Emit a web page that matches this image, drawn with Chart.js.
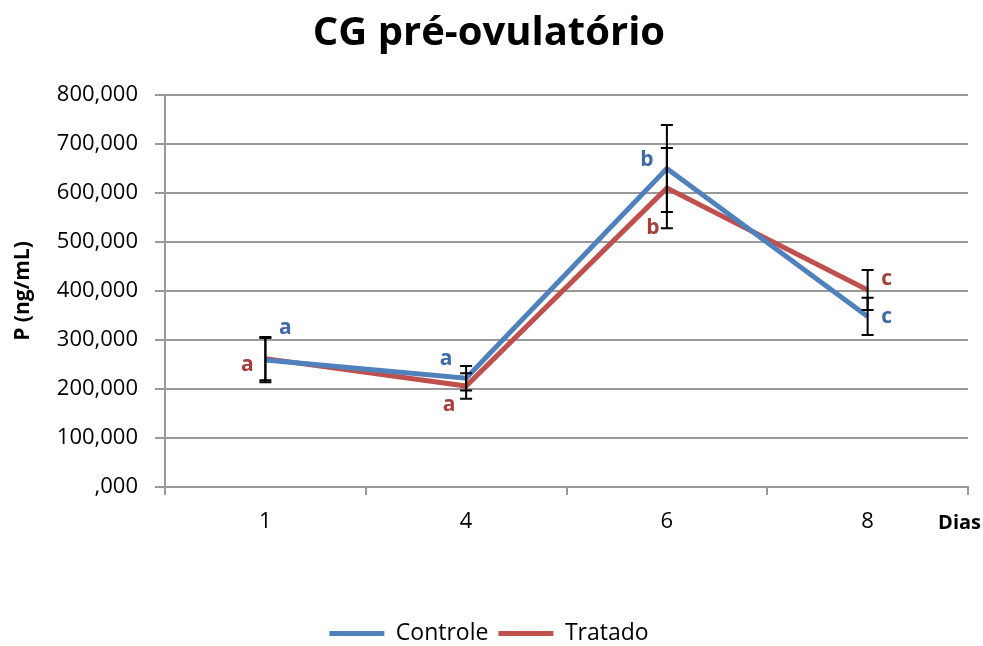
<!DOCTYPE html>
<html>
<head>
<meta charset="utf-8">
<script src="https://cdn.jsdelivr.net/npm/chart.js@4"></script>
<style>
  html, body { margin: 0; padding: 0; background: #fff; }
  #wrap { width: 983px; height: 646px; }
</style>
</head>
<body>
<div id="wrap"><canvas id="myChart" width="983" height="646"></canvas></div>
<script>
// dados --------------------------------------
const days = ['1', '4', '6', '8'];
const controle = [259, 222, 650, 348];
const tratado = [262, 206, 610, 402];
const controleErr = [45, 25, 89, 38];
const tratadoErr = [44, 26, 82, 41];
const controleLetters = ['a', 'a', 'b', 'c'];
const tratadoLetters = ['a', 'a', 'b', 'c'];

const blue = '#4F81BD';
const red = '#C0504D';
const font = "'Open Sans', 'Noto Sans', sans-serif";

// where each significance letter sits next to its point (px)
const controleOffsets = [[20, -32], [-20, -19], [-20, -8], [19, 1]];
const tratadoOffsets = [[-18, 6], [-17, 19], [-14, 40], [19, -11]];

// error bars + letters + "Dias"
const extras = {
  id: 'extras',
  afterDatasetsDraw(chart) {
    const ctx = chart.ctx;
    const x = chart.scales.x;
    const y = chart.scales.y;
    const series = [
      { vals: controle, err: controleErr },
      { vals: tratado, err: tratadoErr }
    ];
    ctx.save();
    ctx.strokeStyle = '#000';
    ctx.lineWidth = 2;
    series.forEach((s) => {
      s.vals.forEach((v, i) => {
        const px = x.getPixelForValue(i);
        const top = y.getPixelForValue(v + s.err[i]);
        const bot = y.getPixelForValue(v - s.err[i]);
        ctx.beginPath();
        ctx.moveTo(px, top); ctx.lineTo(px, bot);
        ctx.moveTo(px - 6, top); ctx.lineTo(px + 6, top);
        ctx.moveTo(px - 6, bot); ctx.lineTo(px + 6, bot);
        ctx.stroke();
      });
    });

    ctx.font = 'bold 21px ' + font;
    ctx.textAlign = 'center';
    ctx.textBaseline = 'middle';
    const lettering = [
      { vals: controle, letters: controleLetters, off: controleOffsets, color: '#3F6BA3' },
      { vals: tratado, letters: tratadoLetters, off: tratadoOffsets, color: '#A33E3B' }
    ];
    lettering.forEach((s) => {
      ctx.fillStyle = s.color;
      s.vals.forEach((v, i) => {
        ctx.fillText(s.letters[i],
          x.getPixelForValue(i) + s.off[i][0],
          y.getPixelForValue(v) + s.off[i][1]);
      });
    });

    ctx.fillStyle = '#000';
    ctx.font = 'bold 20px ' + font;
    ctx.textAlign = 'right';
    ctx.fillText('Dias', chart.chartArea.right + 13, chart.chartArea.bottom + 36);
    ctx.restore();
  }
};

var ctx = document.getElementById('myChart').getContext('2d');
var chart = new Chart(ctx, {
  type: 'line',
  data: {
    labels: days,
    datasets: [
      {
        label: 'Controle',
        data: controle,
        borderColor: blue,
        backgroundColor: blue,
        borderWidth: 5,
        pointRadius: 0,
        tension: 0
      },
      {
        label: 'Tratado',
        data: tratado,
        borderColor: red,
        backgroundColor: red,
        borderWidth: 5,
        pointRadius: 0,
        tension: 0
      }
    ]
  },
  options: {
    responsive: false,
    animation: false,
    layout: { padding: { left: 10, right: 15, top: 0, bottom: -9 } },
    plugins: {
      title: {
        display: true,
        text: 'CG pré-ovulatório',
        color: '#000',
        font: { family: font, size: 40, weight: 'bold' },
        padding: { top: 10, bottom: 37 }
      },
      legend: {
        position: 'bottom',
        labels: {
          color: '#000',
          font: { family: font, size: 23 },
          boxWidth: 55,
          boxHeight: 5,
          padding: 10,
          generateLabels(chart) {
            return Chart.defaults.plugins.legend.labels.generateLabels(chart)
              .map((it) => Object.assign(it, { lineWidth: 0 }));
          }
        }
      },
      tooltip: { enabled: false }
    },
    scales: {
      x: {
        offset: true,
        grid: { offset: true, drawOnChartArea: false, color: '#999', lineWidth: 2, tickLength: 8 },
        border: { color: '#999', width: 2 },
        ticks: { color: '#000', font: { family: font, size: 22 }, padding: 14 },
        afterFit(scale) { scale.height = 125; }
      },
      y: {
        min: 0,
        max: 800,
        grid: { color: '#999', lineWidth: 2, tickLength: 10 },
        border: { color: '#999', width: 2 },
        ticks: {
          stepSize: 100,
          color: '#000',
          font: { family: font, size: 22 },
          padding: 17,
          callback: (v) => v.toFixed(3).replace('.', ',').replace(/^0,/, ',')
        },
        title: {
          display: true,
          text: 'P (ng/mL)',
          color: '#000',
          font: { family: font, size: 21, weight: 'bold' },
          padding: 0
        },
        afterFit(scale) { scale.width = 155; }
      }
    }
  },
  plugins: [extras]
});
</script>
</body>
</html>
